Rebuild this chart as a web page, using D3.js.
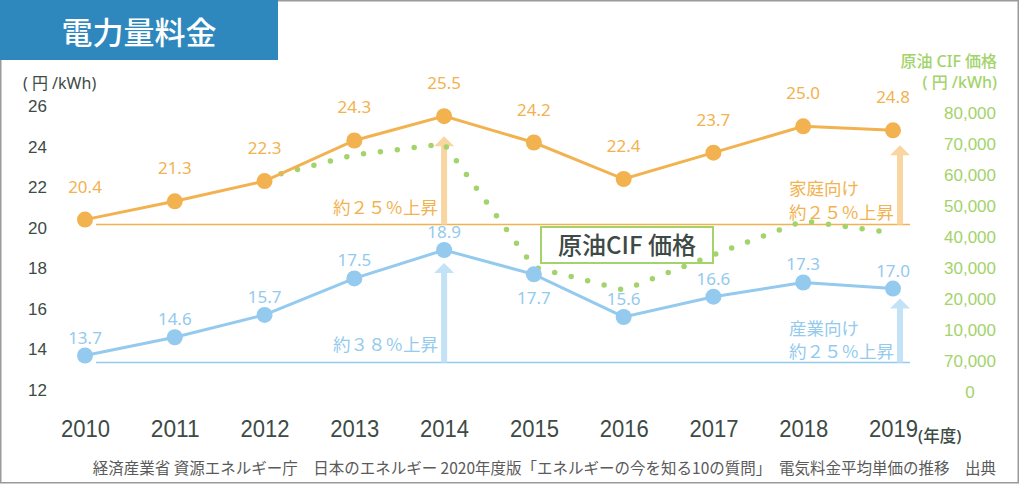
<!DOCTYPE html>
<html>
<head>
<meta charset="utf-8">
<script src="https://cdn.jsdelivr.net/npm/d3@7"></script>
<style>
  body { margin: 0; background: #fff; }
  svg { font-family: "Noto Sans", "Noto Sans CJK JP", sans-serif; }
</style>
</head>
<body>
<div id="chart"></div>
<script>
// data
var years = [2010, 2011, 2012, 2013, 2014, 2015, 2016, 2017, 2018, 2019];
var household = [20.4, 21.3, 22.3, 24.3, 25.5, 24.2, 22.4, 23.7, 25.0, 24.8];
var industry = [13.7, 14.6, 15.7, 17.5, 18.9, 17.7, 15.6, 16.6, 17.3, 17.0];
var oilYears = [2012, 2013, 2014, 2015, 2016, 2017, 2018, 2019];
var oilPrice = [59000, 66500, 70000, 30300, 22900, 34200, 45200, 41300];
var leftTicks = [12, 14, 16, 18, 20, 22, 24, 26];
var oilTicks = [-10000, 0, 10000, 20000, 30000, 40000, 50000, 60000, 70000, 80000];
var oilTickLabels = ["0", "70,000", "10,000", "20,000", "30,000", "40,000", "50,000", "60,000", "70,000", "80,000"];

var width = 1021, height = 485;
var orange = "#f2b24f", blue = "#93caee", green = "#a3d36b";
var orangeLight = "#f9d5a1", blueLight = "#c4e2f6";
var dark = "#3d4a45";

var svg = d3.select("#chart").append("svg")
    .attr("width", width)
    .attr("height", height);

// frame + title
svg.append("rect")
    .attr("x", 0.75).attr("y", 0.75)
    .attr("width", width - 3.5).attr("height", height - 3)
    .attr("fill", "none")
    .attr("stroke", "#9a9a9a")
    .attr("stroke-width", 1.5);

svg.append("rect")
    .attr("x", 0).attr("y", 0)
    .attr("width", 278).attr("height", 60)
    .attr("fill", "#2e88be");

svg.append("text")
    .attr("x", 139).attr("y", 44)
    .attr("text-anchor", "middle")
    .attr("fill", "#fff")
    .style("font-family", "'Noto Sans CJK JP'")
    .style("font-size", "31px")
    .style("font-weight", 500)
    .text("電力量料金");

// scales
var x = d3.scalePoint().domain(years).range([85, 893]);
var y = d3.scaleLinear().domain([12, 26]).range([390, 106]);
var yOil = d3.scaleLinear().domain([-10000, 80000]).range([392, 113]);

// axes
var leftAxis = svg.append("g")
    .attr("transform", "translate(53,0)")
    .call(d3.axisLeft(y).tickValues(leftTicks).tickSize(0).tickPadding(6));
leftAxis.select(".domain").remove();
leftAxis.selectAll("text")
    .attr("fill", dark)
    .style("font-size", "17px");

var rightAxis = svg.append("g")
    .attr("transform", "translate(970,0)")
    .call(d3.axisRight(yOil).tickValues(oilTicks).tickSize(0)
        .tickFormat(function (d, i) { return oilTickLabels[i]; }));
rightAxis.select(".domain").remove();
rightAxis.selectAll("text")
    .attr("x", 0)
    .attr("text-anchor", "middle")
    .attr("fill", green)
    .style("font-size", "17px");

var bottomAxis = svg.append("g")
    .attr("transform", "translate(0,420)")
    .call(d3.axisBottom(x).tickSize(0).tickPadding(0).tickFormat(d3.format("d")));
bottomAxis.select(".domain").remove();
bottomAxis.selectAll("text")
    .attr("fill", dark)
    .attr("textLength", 49)
    .attr("lengthAdjust", "spacingAndGlyphs")
    .style("font-size", "24px");

svg.append("text")
    .attr("x", 23).attr("y", 89)
    .attr("fill", dark)
    .style("font-size", "16px")
    .text("( 円 /kWh)");

svg.append("text")
    .attr("x", 997).attr("y", 67)
    .attr("text-anchor", "end")
    .attr("fill", green)
    .style("font-size", "16px")
    .style("font-weight", 500)
    .text("原油 CIF 価格");

svg.append("text")
    .attr("x", 997).attr("y", 88)
    .attr("text-anchor", "end")
    .attr("fill", green)
    .style("font-size", "16px")
    .style("font-weight", 500)
    .text("( 円 /kWh)");

svg.append("text")
    .attr("x", 918).attr("y", 442)
    .attr("fill", dark)
    .style("font-size", "16.5px")
    .style("font-weight", 500)
    .text("(年度)");

svg.append("text")
    .attr("x", 996).attr("y", 474)
    .attr("text-anchor", "end")
    .attr("fill", "#5a5a5a")
    .style("font-family", "'Noto Sans CJK JP'")
    .style("font-size", "15.5px")
    .text("経済産業省 資源エネルギー庁　日本のエネルギー 2020年度版「エネルギーの今を知る10の質問」　電気料金平均単価の推移　出典");

// baselines from 2010 values
var baseO = y(household[0]) + 5;
var baseB = y(industry[0]) + 7;

svg.append("line")
    .attr("x1", 96).attr("x2", 910)
    .attr("y1", baseO).attr("y2", baseO)
    .attr("stroke", orange).attr("stroke-width", 1.5);
svg.append("line")
    .attr("x1", 96).attr("x2", 910)
    .attr("y1", baseB).attr("y2", baseB)
    .attr("stroke", blue).attr("stroke-width", 1.5);

// arrows
function arrow(xPos, yBase, yTip, color) {
    var g = svg.append("g").attr("fill", color);
    g.append("rect")
        .attr("x", xPos - 3).attr("y", yTip + 9)
        .attr("width", 6).attr("height", yBase - yTip - 9);
    g.append("path")
        .attr("d", "M" + (xPos - 10) + "," + (yTip + 10) + "L" + xPos + "," + yTip + "L" + (xPos + 10) + "," + (yTip + 10) + "Z");
}
arrow(x(2014), baseO, y(household[4]) + 20, orangeLight);
arrow(x(2019) + 7, baseO, y(household[9]) + 15, orangeLight);
arrow(x(2014), baseB, y(industry[4]) + 13, blueLight);
arrow(x(2019) + 7, baseB, y(industry[9]) + 10, blueLight);

// annotations
function note(xPos, yPos, anchor, color, txt) {
    svg.append("text")
        .attr("x", xPos).attr("y", yPos)
        .attr("text-anchor", anchor)
        .attr("fill", color)
        .style("font-family", "'Noto Sans CJK JP'")
        .style("font-size", "17.5px")
        .text(txt);
}
note(x(2014) - 6, baseO - 11, "end", orange, "約２５％上昇");
note(x(2014) - 6, baseB - 12, "end", blue, "約３８％上昇");
note(789, baseO - 30, "start", orange, "家庭向け");
note(789, baseO - 6, "start", orange, "約２５％上昇");
note(789, baseB - 28, "start", blue, "産業向け");
note(789, baseB - 5, "start", blue, "約２５％上昇");

// crude oil label box
svg.append("rect")
    .attr("x", 541).attr("y", 227)
    .attr("width", 172).attr("height", 36)
    .attr("fill", "#fff")
    .attr("stroke", green)
    .attr("stroke-width", 2);
svg.append("text")
    .attr("x", 558).attr("y", 254)
    .attr("fill", dark)
    .style("font-family", "'Noto Sans CJK JP'")
    .style("font-size", "24px")
    .style("font-weight", 500)
    .text("原油CIF 価格");

// crude oil dotted line
var oilLine = d3.line()
    .x(function (d, i) { return x(oilYears[i]); })
    .y(function (d) { return yOil(d); });

svg.append("path")
    .datum(oilPrice)
    .attr("d", oilLine)
    .attr("fill", "none")
    .attr("stroke", green)
    .attr("stroke-width", 5.5)
    .attr("stroke-linecap", "round")
    .attr("stroke-dasharray", "0 17");

// series lines, points, labels
function series(values, color, labelDy) {
    var line = d3.line()
        .x(function (d, i) { return x(years[i]); })
        .y(function (d) { return y(d); });

    svg.append("path")
        .datum(values)
        .attr("d", line)
        .attr("fill", "none")
        .attr("stroke", color)
        .attr("stroke-width", 3);

    svg.selectAll(null)
        .data(values)
        .enter()
        .append("circle")
        .attr("cx", function (d, i) { return x(years[i]); })
        .attr("cy", function (d) { return y(d); })
        .attr("r", 8)
        .attr("fill", color);

    svg.selectAll(null)
        .data(values)
        .enter()
        .append("text")
        .attr("x", function (d, i) { return x(years[i]); })
        .attr("y", function (d, i) { return y(d) + labelDy(i); })
        .attr("text-anchor", "middle")
        .attr("fill", color)
        .style("font-size", "17px")
        .text(function (d) { return d.toFixed(1); });
}

series(household, orange, function () { return -27; });
series(industry, blue, function (i) { return years[i] === 2015 ? 30 : -12; });
</script>
</body>
</html>
